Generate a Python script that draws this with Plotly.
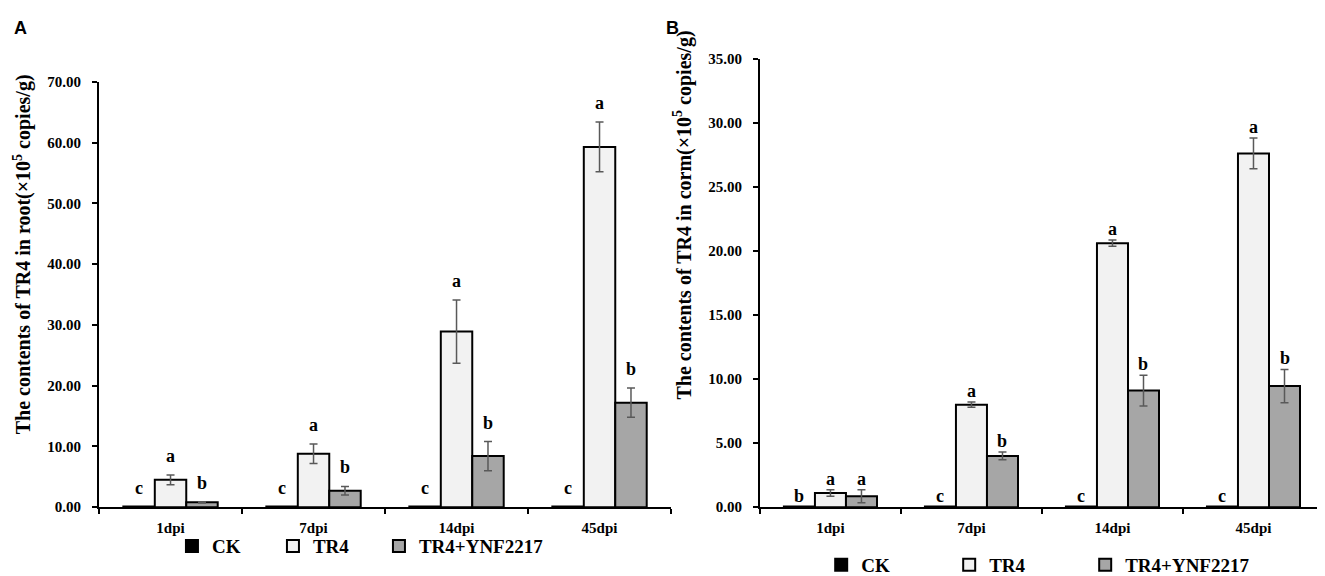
import plotly.graph_objects as go

# ---------- Data ----------
days = ["1dpi", "7dpi", "14dpi", "45dpi"]
groups = ["CK", "TR4", "TR4+YNF2217"]

# panel A: root
root_ck = [0.1, 0.1, 0.1, 0.1]
root_tr4 = [4.5, 8.8, 28.9, 59.3]
root_ynf = [0.8, 2.7, 8.4, 17.2]
root_ck_err = [0, 0, 0, 0]
root_tr4_err = [0.8, 1.6, 5.2, 4.1]
root_ynf_err = [0.1, 0.7, 2.4, 2.4]
root_letters_ck = ["c", "c", "c", "c"]
root_letters_tr4 = ["a", "a", "a", "a"]
root_letters_ynf = ["b", "b", "b", "b"]

# panel B: corm
corm_ck = [0.05, 0.05, 0.05, 0.05]
corm_tr4 = [1.1, 8.0, 20.6, 27.6]
corm_ynf = [0.85, 4.0, 9.1, 9.45]
corm_ck_err = [0, 0, 0, 0]
corm_tr4_err = [0.25, 0.2, 0.25, 1.2]
corm_ynf_err = [0.5, 0.3, 1.2, 1.3]
corm_letters_ck = ["b", "c", "c", "c"]
corm_letters_tr4 = ["a", "a", "a", "a"]
corm_letters_ynf = ["a", "b", "b", "b"]

colors = ["#000000", "#f2f2f2", "#a6a6a6"]
serif = "Times New Roman, Liberation Serif, serif"

fig = go.Figure()

panels = [
    dict(vals=[root_ck, root_tr4, root_ynf], errs=[root_ck_err, root_tr4_err, root_ynf_err],
         letters=[root_letters_ck, root_letters_tr4, root_letters_ynf],
         xa="x", ya="y", legend="legend", shift=19, lw=[56, 61, None]),
    dict(vals=[corm_ck, corm_tr4, corm_ynf], errs=[corm_ck_err, corm_tr4_err, corm_ynf_err],
         letters=[corm_letters_ck, corm_letters_tr4, corm_letters_ynf],
         xa="x2", ya="y2", legend="legend2", shift=11, lw=[83, 91, None]),
]

bar_w = 0.22
for p in panels:
    for i, g in enumerate(groups):
        fig.add_trace(go.Bar(
            x=days, y=p["vals"][i], name=g, xaxis=p["xa"], yaxis=p["ya"], legend=p["legend"],
            legendwidth=p["lw"][i],
            marker=dict(color=colors[i], line=dict(color="black", width=2)),
            error_y=dict(type="data", array=p["errs"][i], visible=any(p["errs"][i]),
                         color="#595959", thickness=1.5, width=4),
        ))
        for j in range(len(days)):
            fig.add_annotation(
                x=j + (i - 1) * bar_w, y=p["vals"][i][j] + p["errs"][i][j],
                xref=p["xa"], yref=p["ya"], text=p["letters"][i][j], showarrow=False,
                yanchor="middle", yshift=p["shift"],
                font=dict(family=serif, size=18, color="black", weight="bold"))

axis_font = dict(family=serif, size=15, color="black", weight="bold")
title_font = dict(family=serif, size=20, color="black", weight="bold")
legend_font = dict(family=serif, size=19, color="black", weight="bold")

xcommon = dict(showline=True, linecolor="black", linewidth=2, ticks="outside", tickson="boundaries",
               ticklen=5, tickwidth=2, tickcolor="black", tickfont=axis_font, showgrid=False,
               ticklabelstandoff=6)
ycommon = dict(showline=True, linecolor="black", linewidth=2, ticks="outside", ticklen=5, tickwidth=2,
               tickcolor="black", tickfont=axis_font, showgrid=False, zeroline=False, tickformat=".2f",
               ticklabelstandoff=8)

fig.update_layout(
    width=1325, height=576,
    margin=dict(l=0, r=0, t=0, b=0),
    plot_bgcolor="white", paper_bgcolor="white",
    barmode="group", bargap=0.34, bargroupgap=0,
    xaxis=dict(domain=[0.0687, 0.5004], anchor="y", **xcommon),
    yaxis=dict(domain=[0.1198, 0.8819], anchor="x", range=[0, 70], dtick=10, **ycommon),
    xaxis2=dict(domain=[0.5675, 0.9932], anchor="y2", **xcommon),
    yaxis2=dict(domain=[0.1198, 0.9236], anchor="x2", range=[0, 35], dtick=5, **ycommon),
    legend=dict(orientation="h", x=0.266, y=0.05, xanchor="center", yanchor="middle",
                font=legend_font, itemwidth=30, tracegroupgap=0, bgcolor="rgba(0,0,0,0)"),
    legend2=dict(orientation="h", x=0.7775, y=0.016, xanchor="center", yanchor="middle",
                 font=legend_font, itemwidth=30, tracegroupgap=0, bgcolor="rgba(0,0,0,0)"),
)

# axis titles and panel letters
extra = [
    ("The contents of TR4 in root(×10<sup>5</sup> copies/g)", 14, 246, -90, title_font),
    ("The contents of TR4 in corm(×10<sup>5</sup> copies/g)", 675, 206, -90, title_font),
    ("A", 12, 12, 0, dict(family="Arial, Liberation Sans", size=18, color="black", weight="bold")),
    ("B", 664, 12, 0, dict(family="Arial, Liberation Sans", size=18, color="black", weight="bold")),
]
for text, px, py, ang, font in extra:
    fig.add_annotation(text=text, x=px / 1325, y=1 - py / 576, xref="paper", yref="paper",
                       showarrow=False, textangle=ang, xanchor="center", yanchor="middle", font=font)

fig.write_html("out.html")
